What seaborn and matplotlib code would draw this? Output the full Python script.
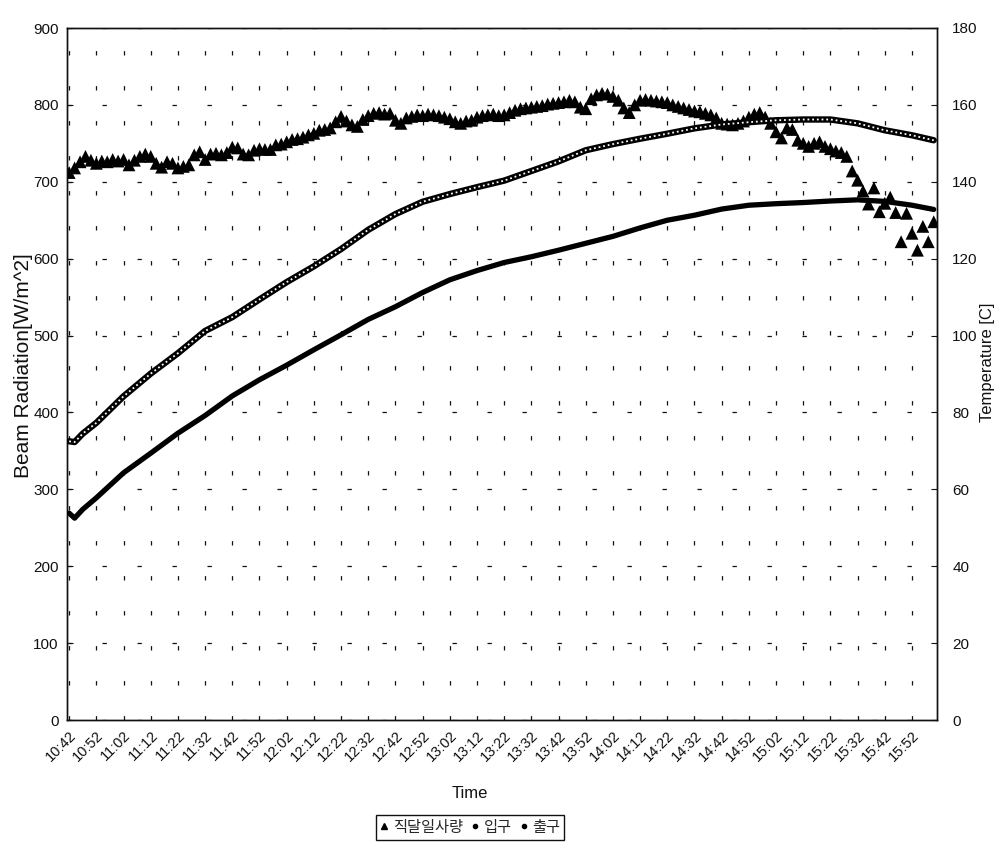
import numpy as np
import pandas as pd
import matplotlib
matplotlib.use("Agg")
import matplotlib.pyplot as plt
import seaborn as sns
from matplotlib.lines import Line2D

# ---------------- data ----------------
# minutes after 10:42, sampled every 2 minutes
RAD_TIME = np.arange(0, 320, 2)
BEAM_RADIATION = [
    712, 718, 726, 733, 728, 724, 727, 726, 729, 727,
    729, 722, 728, 733, 736, 733, 724, 719, 726, 724,
    718, 720, 722, 735, 739, 729, 736, 737, 735, 738,
    745, 744, 736, 735, 741, 743, 742, 742, 748, 749,
    752, 755, 756, 758, 761, 763, 767, 768, 770, 778,
    785, 779, 774, 772, 781, 786, 789, 790, 788, 789,
    780, 776, 783, 785, 787, 786, 788, 787, 786, 784,
    782, 778, 776, 779, 780, 784, 786, 787, 788, 786,
    787, 790, 793, 795, 796, 797, 798, 799, 801, 802,
    803, 804, 806, 804, 797, 795, 808, 813, 815, 814,
    811, 806, 796, 790, 800, 806, 807, 806, 805, 804,
    803, 800, 798, 796, 794, 792, 791, 789, 787, 783,
    776, 775, 774, 776, 779, 784, 788, 790, 784, 776,
    765, 757, 770, 768, 754, 750, 746, 750, 752, 746,
    743, 740, 738, 733, 714, 702, 688, 671, 692, 661,
    672, 680, 660, 622, 659, 633, 611, 642, 622, 648,
]

CURVE_TIME = [0, 2, 5, 10, 20, 30, 40, 50, 60, 70, 80, 90, 100, 110, 120,
              130, 140, 150, 160, 170, 180, 190, 200, 210, 220, 230, 240,
              250, 260, 270, 280, 290, 300, 310, 318]
OUTLET_TEMP = [72.5, 72.3, 74.5, 77.3, 84.2, 90.1, 95.4, 101.2, 104.8, 109.4,
               113.9, 118.0, 122.5, 127.5, 131.6, 134.8, 136.8, 138.6, 140.3,
               142.8, 145.3, 148.2, 149.8, 151.2, 152.5, 153.9, 154.9, 155.5,
               156.0, 156.2, 156.2, 155.2, 153.4, 152.1, 150.8]
INLET_TEMP = [53.8, 52.5, 54.8, 57.8, 64.3, 69.4, 74.6, 79.2, 84.3, 88.5,
              92.3, 96.3, 100.2, 104.2, 107.5, 111.2, 114.5, 116.9, 119.0,
              120.5, 122.2, 124.0, 125.8, 128.0, 130.0, 131.3, 132.9, 133.9,
              134.3, 134.6, 135.0, 135.3, 134.9, 133.9, 132.8]

XTICK_MIN = list(range(0, 320, 10))
XTICK_LABELS = ["10:42", "10:52", "11:02", "11:12", "11:22", "11:32", "11:42",
                "11:52", "12:02", "12:12", "12:22", "12:32", "12:42", "12:52",
                "13:02", "13:12", "13:22", "13:32", "13:42", "13:52", "14:02",
                "14:12", "14:22", "14:32", "14:42", "14:52", "15:02", "15:12",
                "15:22", "15:32", "15:42", "15:52"]
LEFT_TICKS = list(range(0, 1000, 100))
RIGHT_TICKS = list(range(0, 200, 20))
LEGEND_LABELS = ["직달일사량", "입구", "출구"]

rad_df = pd.DataFrame({"t": RAD_TIME, "rad": BEAM_RADIATION})
temp_df = pd.DataFrame({"t": CURVE_TIME, "outlet": OUTLET_TEMP, "inlet": INLET_TEMP})

# ---------------- style ----------------
sns.set_theme(style="white")
plt.rcParams["font.family"] = ["Liberation Sans Narrow", "Liberation Sans", "DejaVu Sans"]
INK = "#111111"

fig = plt.figure(figsize=(9.97, 8.46), dpi=100)
ax = fig.add_axes([67 / 997, 1 - 720 / 846, 870 / 997, 692 / 846])
ax2 = ax.twinx()

dash = (0, (3.5, 24.5))
ax.set_xlim(-0.8, 319.2)
ax.set_ylim(0, 900)
ax2.set_ylim(0, 180)
ax.set_xticks(XTICK_MIN)
ax.set_xticklabels(XTICK_LABELS, rotation=45, ha="right", va="top",
                   rotation_mode="anchor", fontsize=10.5, color=INK)
ax.set_yticks(LEFT_TICKS)
ax.set_yticklabels([str(v) for v in LEFT_TICKS], fontsize=11, color=INK)
ax2.set_yticks(RIGHT_TICKS)
ax2.set_yticklabels([str(v) for v in RIGHT_TICKS], fontsize=11, color=INK)
ax.grid(True, color=INK, linewidth=0.9, linestyle=dash)
ax2.grid(False)

# beam radiation triangles (left axis)
sns.scatterplot(data=rad_df, x="t", y="rad", ax=ax, marker="^", s=85,
                color="black", edgecolor="none", linewidth=0, zorder=3, legend=False)

# temperatures (right axis)
sns.lineplot(data=temp_df, x="t", y="inlet", ax=ax2, color="black",
             linewidth=3.8, zorder=3, legend=False)
sns.lineplot(data=temp_df, x="t", y="outlet", ax=ax2, color="black",
             linewidth=4.6, zorder=3, legend=False)
sns.lineplot(data=temp_df, x="t", y="outlet", ax=ax2, color="white",
             linewidth=1.3, linestyle=(0, (1.0, 1.6)), zorder=4, legend=False)

for a in (ax, ax2):
    for s in a.spines.values():
        s.set_visible(True)
        s.set_color(INK)
        s.set_linewidth(1.0)
ax.tick_params(axis="both", direction="in", length=4, width=0.8, colors=INK)
ax.tick_params(axis="y", pad=6)
ax.tick_params(axis="x", pad=6)
ax2.tick_params(axis="y", direction="in", length=4, width=0.8, colors=INK, pad=11)

ax.set_xlabel("Time", fontsize=12, color=INK,
              family=["Liberation Sans", "DejaVu Sans"])
ax.xaxis.set_label_coords((470 - 67) / 870, (720 - 786) / 692)
ax.set_ylabel("Beam Radiation[W/m^2]", fontsize=15, color=INK,
              family=["Liberation Sans", "DejaVu Sans"])
ax.yaxis.set_label_coords((33 - 67) / 870, (720 - 366) / 692)
ax2.set_ylabel("Temperature [C]", fontsize=12, color=INK,
               family=["Liberation Sans", "DejaVu Sans"])
ax2.yaxis.set_label_coords((980 - 67) / 870, (720 - 362) / 692)

handles = [
    Line2D([], [], marker="^", color="black", linestyle="none", markersize=5),
    Line2D([], [], marker="o", color="black", linestyle="none", markersize=3),
    Line2D([], [], marker="o", color="black", linestyle="none", markersize=3),
]
leg = fig.legend(handles, LEGEND_LABELS, loc="upper center",
                 bbox_to_anchor=(470 / 997, 1 - 815 / 846), ncol=3,
                 frameon=True, fancybox=False, edgecolor=INK, framealpha=1,
                 handlelength=0.6, handletextpad=0.25, columnspacing=0.5,
                 borderpad=0.25, borderaxespad=0,
                 prop={"family": ["Noto Sans CJK KR", "DejaVu Sans"], "size": 11})
leg.get_frame().set_linewidth(1.0)

fig.savefig("out.png", dpi=100)
